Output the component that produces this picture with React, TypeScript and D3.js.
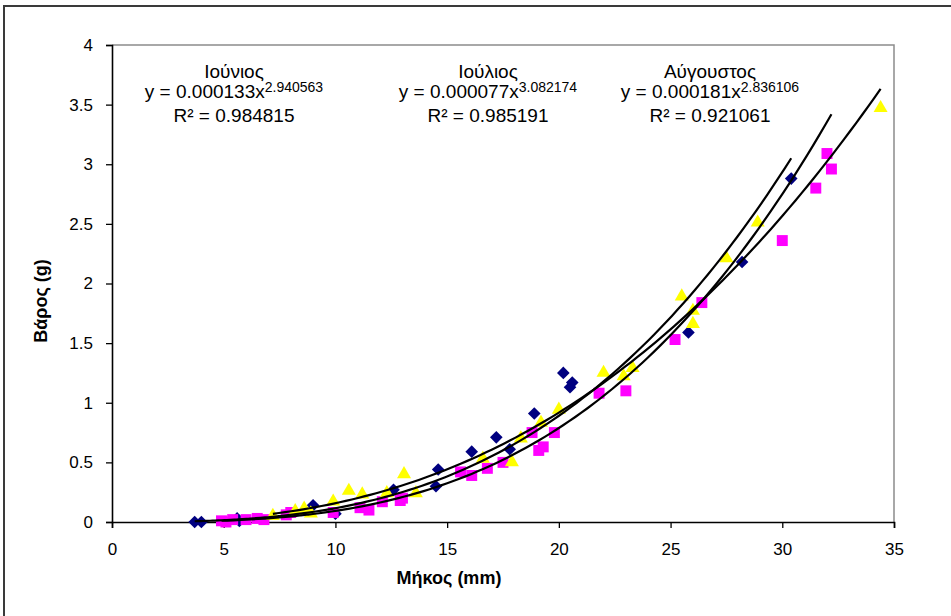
import React, { useEffect, useRef } from "react";
import * as d3 from "d3";

// Ιούνιος (navy diamonds)
const juneData: [number, number][] = [
  [3.7, 0], [4.0, 0], [5.6, 0.03], [5.7, 0.01], [9.0, 0.14], [10.0, 0.07],
  [12.6, 0.27], [14.5, 0.3], [14.6, 0.44], [16.1, 0.59], [17.2, 0.71],
  [17.8, 0.61], [18.9, 0.91], [20.2, 1.25], [20.5, 1.13], [20.6, 1.17],
  [25.8, 1.59], [28.2, 2.18], [30.4, 2.88],
];

// Ιούλιος (magenta squares)
const julyData: [number, number][] = [
  [4.9, 0.01], [5.1, 0], [5.4, 0.02], [6.0, 0.02], [6.5, 0.03], [6.8, 0.02],
  [7.8, 0.06], [8.0, 0.08], [9.9, 0.08], [11.1, 0.12], [11.5, 0.1],
  [12.1, 0.17], [12.9, 0.18], [13.0, 0.2], [15.6, 0.42], [16.1, 0.39],
  [16.8, 0.45], [17.5, 0.5], [18.8, 0.75], [19.1, 0.6], [19.3, 0.63],
  [19.8, 0.75], [21.8, 1.08], [23.0, 1.1], [25.2, 1.53], [26.4, 1.84],
  [30.0, 2.36], [31.5, 2.8], [32.0, 3.09], [32.2, 2.96],
];

// Αύγουστος (yellow triangles)
const augustData: [number, number][] = [
  [7.2, 0.06], [8.2, 0.1], [8.6, 0.12], [8.9, 0.08], [9.9, 0.18],
  [10.6, 0.27], [11.2, 0.24], [12.3, 0.25], [13.07, 0.41], [13.6, 0.25],
  [16.6, 0.54], [17.9, 0.51], [18.3, 0.71], [19.2, 0.84], [20.0, 0.95],
  [22.0, 1.26], [22.9, 1.23], [23.3, 1.3], [25.5, 1.9], [26.0, 1.67],
  [26.0, 1.78], [27.5, 2.22], [28.9, 2.52], [34.4, 3.48],
];

// power trendlines y = a * x^b, as printed on the chart
const trendNames = ["Ιούνιος", "Ιούλιος", "Αύγουστος"];
const trendA = [0.000133, 0.000077, 0.000181];
const trendB = [2.940563, 3.082174, 2.836106];
const trendAText = ["0.000133", "0.000077", "0.000181"];
const trendBText = ["2.940563", "3.082174", "2.836106"];
const trendR2 = ["0.984815", "0.985191", "0.921061"];

const xTicks = [0, 5, 10, 15, 20, 25, 30, 35];
const yTicks = [0, 0.5, 1, 1.5, 2, 2.5, 3, 3.5, 4];

// log-log least squares (Excel power trendline), skipping zero weights
const powerFit = (data: [number, number][]) => {
  const pts = data.filter(d => d[1] > 0).map(d => [Math.log(d[0]), Math.log(d[1])]);
  const mx = d3.mean(pts, p => p[0]) as number;
  const my = d3.mean(pts, p => p[1]) as number;
  const sxy = d3.sum(pts, p => (p[0] - mx) * (p[1] - my));
  const sxx = d3.sum(pts, p => (p[0] - mx) ** 2);
  const b = sxy / sxx;
  return { a: Math.exp(my - b * mx), b };
};

const App = () => {
  const ref = useRef<SVGSVGElement>(null);

  useEffect(() => {
    const svg = d3.select(ref.current);
    svg.selectAll("*").remove();

    const font = "'Liberation Sans', Arial, sans-serif";
    const left = 112, right = 894, top = 45, bottom = 522;

    const x = d3.scaleLinear().domain([0, 35]).range([left, right]);
    const y = d3.scaleLinear().domain([0, 4]).range([bottom, top]);

    // outer chart border
    svg.append("rect")
      .attr("x", 4).attr("y", 6)
      .attr("width", 980).attr("height", 640)
      .attr("fill", "#fff")
      .attr("stroke", "#3a3a3a")
      .attr("stroke-width", 2);

    // plot area border (top / right in grey)
    svg.append("path")
      .attr("d", `M${left},${top}H${right}V${bottom}`)
      .attr("fill", "none")
      .attr("stroke", "#8c8c8c")
      .attr("stroke-width", 1.5);

    // axes
    const xAxis = svg.append("g")
      .attr("transform", `translate(0,${bottom})`)
      .call(d3.axisBottom(x).tickValues(xTicks).tickSize(6).tickPadding(15).tickFormat(d3.format("d")));
    const yAxis = svg.append("g")
      .attr("transform", `translate(${left},0)`)
      .call(d3.axisLeft(y).tickValues(yTicks).tickSize(6).tickPadding(13).tickFormat(d => String(d)));

    [xAxis, yAxis].forEach(ax => {
      ax.select(".domain").attr("stroke", "#000").attr("stroke-width", 1.6);
      ax.selectAll(".tick line").attr("stroke", "#000").attr("stroke-width", 1.3);
      ax.selectAll("text")
        .attr("fill", "#000")
        .style("font-family", font)
        .style("font-size", "17px");
    });

    // axis titles
    svg.append("text")
      .attr("x", 449).attr("y", 584)
      .attr("text-anchor", "middle")
      .style("font-family", font).style("font-size", "18px").style("font-weight", "bold")
      .text("Μήκος (mm)");
    svg.append("text")
      .attr("transform", `translate(47,301) rotate(-90)`)
      .attr("text-anchor", "middle")
      .style("font-family", font).style("font-size", "18px").style("font-weight", "bold")
      .text("Βάρος (g)");

    const plot = svg.append("g");

    // markers
    const diamond = d3.symbol().type(d3.symbolSquare).size(80)();
    const square = d3.symbol().type(d3.symbolSquare).size(120)();
    const triangle = d3.symbol().type(d3.symbolTriangle).size(85)();

    plot.selectAll(".june")
      .data(juneData).enter().append("path")
      .attr("d", diamond)
      .attr("transform", d => `translate(${x(d[0])},${y(d[1])}) rotate(45)`)
      .attr("fill", "#000080");

    plot.selectAll(".july")
      .data(julyData).enter().append("path")
      .attr("d", square)
      .attr("transform", d => `translate(${x(d[0])},${y(d[1])})`)
      .attr("fill", "#ff00ff");

    plot.selectAll(".aug")
      .data(augustData).enter().append("path")
      .attr("d", triangle)
      .attr("transform", d => `translate(${x(d[0])},${y(d[1]) + 1})`)
      .attr("fill", "#ffff00");

    // trendlines over each series' x range
    const line = d3.line<[number, number]>().x(d => x(d[0])).y(d => y(d[1])).curve(d3.curveMonotoneX);
    [juneData, julyData, augustData].forEach((data, i) => {
      const [x0, x1] = d3.extent(data, d => d[0]) as [number, number];
      // the drawn August curve follows its points rather than the printed equation
      const fit = i === 2 ? powerFit(data) : { a: trendA[i], b: trendB[i] };
      const pts: [number, number][] = d3.range(0, 101).map(k => {
        const xv = x0 + (x1 - x0) * k / 100;
        return [xv, fit.a * Math.pow(xv, fit.b)];
      });
      plot.append("path")
        .attr("d", line(pts))
        .attr("fill", "none")
        .attr("stroke", "#000")
        .attr("stroke-width", 2.2);
    });

    // equation labels
    const labelX = [234, 488, 710];
    trendNames.forEach((name, i) => {
      const g = svg.append("g").style("font-family", font).attr("fill", "#000");
      g.append("text")
        .attr("x", labelX[i]).attr("y", 78)
        .attr("text-anchor", "middle")
        .style("font-size", "19px")
        .text(name);
      const eq = g.append("text")
        .attr("x", labelX[i]).attr("y", 98)
        .attr("text-anchor", "middle")
        .style("font-size", "19px");
      eq.append("tspan").text(`y = ${trendAText[i]}x`);
      eq.append("tspan").attr("dy", -6).style("font-size", "14px").text(trendBText[i]);
      g.append("text")
        .attr("x", labelX[i]).attr("y", 122)
        .attr("text-anchor", "middle")
        .style("font-size", "19px")
        .text(`R² = ${trendR2[i]}`);
    });
  }, []);

  return (
    <div style={{ position: "absolute", left: 0, top: 0 }}>
      <svg ref={ref} width={951} height={616} style={{ display: "block" }}></svg>
    </div>
  );
};

export default App;
